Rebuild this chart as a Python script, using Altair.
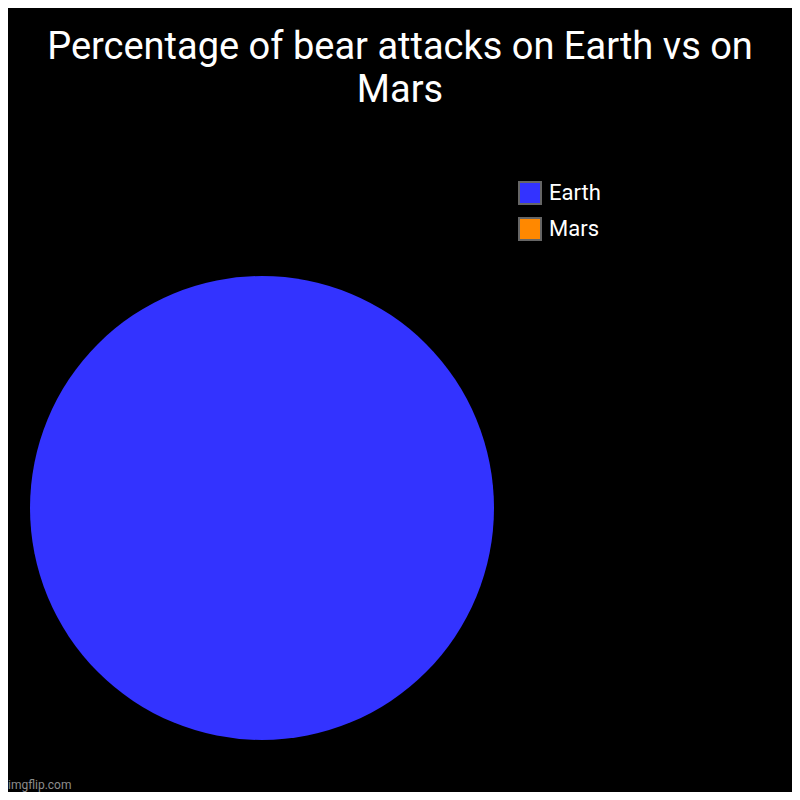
import altair as alt
import pandas as pd

categories = ["Earth", "Mars"]
values = [100, 0]
colors = ["#3333ff", "#ff8800"]
title_lines = ["Percentage of bear attacks on Earth vs on", "Mars"]
watermark = ["imgflip.com"]

df = pd.DataFrame({"planet": categories, "pct": values, "idx": [0, 1]})

pie = alt.Chart(df).mark_arc(outerRadius=232, innerRadius=0).encode(
    theta=alt.Theta("pct:Q", stack=True),
    order=alt.Order("idx:Q"),
    color=alt.Color(
        "planet:N",
        sort=categories,
        scale=alt.Scale(domain=categories, range=colors),
        legend=alt.Legend(
            title=None, orient="none", legendX=510, legendY=73,
            symbolType="square", symbolSize=484,
            symbolStrokeColor="#666666", symbolStrokeWidth=2, symbolOpacity=1,
            labelFontSize=22, labelColor="white", labelFont="Roboto",
            rowPadding=6, labelOffset=7,
        ),
    ),
    x=alt.value(254),
    y=alt.value(400),
)

wm = alt.Chart(pd.DataFrame({"t": watermark})).mark_text(
    align="left", baseline="bottom", fontSize=12, color="#8c8c8c", font="Roboto"
).encode(x=alt.value(0), y=alt.value(684), text="t:N")

chart = alt.layer(pie, wm).properties(
    width=784,
    height=684,
    autosize=alt.AutoSizeParams(type="none"),
    padding={"top": 100, "left": 0, "right": 0, "bottom": 0},
    background="black",
    title=alt.TitleParams(
        text=title_lines, fontSize=38, font="Roboto", fontWeight="normal",
        color="white", anchor="middle", frame="group", baseline="alphabetic",
        offset=5, lineHeight=43, dy=37,
    ),
).configure_view(stroke=None)

chart.save("out.html", embed_options={"renderer": "svg", "actions": False})
